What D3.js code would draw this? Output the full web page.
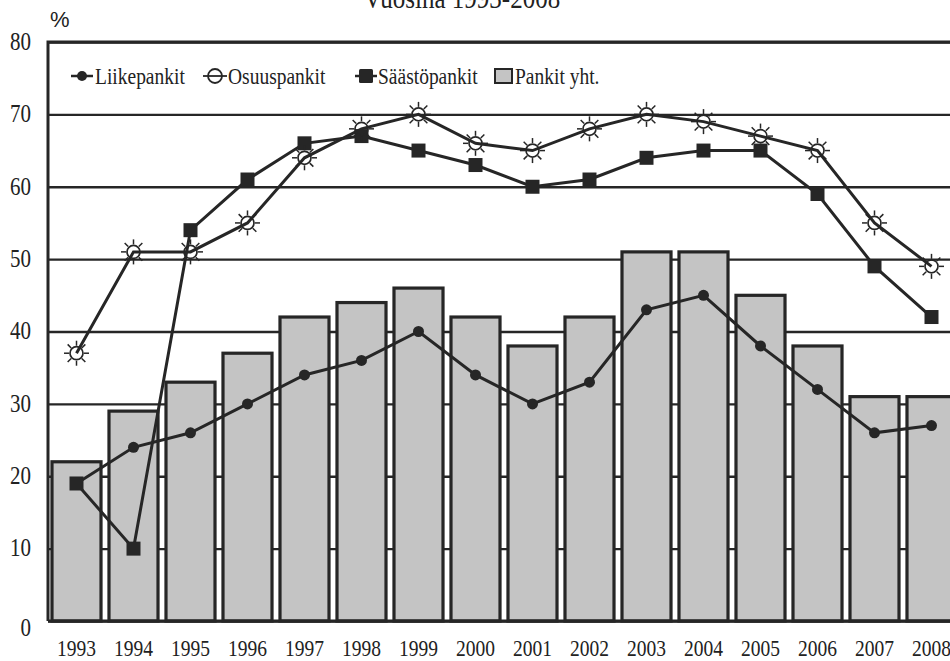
<!DOCTYPE html>
<html>
<head>
<meta charset="utf-8">
<script src="https://cdn.jsdelivr.net/npm/d3@7"></script>
<style>
  body { margin: 0; background: #fff; }
  svg { display: block; }
  text { font-family: "Liberation Serif", "Times New Roman", serif; fill: #222; }
</style>
</head>
<body>
<script>
// data
var years = ["1993", "1994", "1995", "1996", "1997", "1998", "1999", "2000",
             "2001", "2002", "2003", "2004", "2005", "2006", "2007", "2008"]
var pankitYht = [22, 29, 33, 37, 42, 44, 46, 42, 38, 42, 51, 51, 45, 38, 31, 31]
var liikepankit = [19, 24, 26, 30, 34, 36, 40, 34, 30, 33, 43, 45, 38, 32, 26, 27]
var osuuspankit = [37, 51, 51, 55, 64, 68, 70, 66, 65, 68, 70, 69, 67, 65, 55, 49]
var saastopankit = [19, 10, 54, 61, 66, 67, 65, 63, 60, 61, 64, 65, 65, 59, 49, 42]
var yTicks = [0, 10, 20, 30, 40, 50, 60, 70, 80]
var legendNames = ["Liikepankit", "Osuuspankit", "Säästöpankit", "Pankit yht."]

var width = 950,
    height = 661
var plotLeft = 48, plotRight = 960, plotTop = 42, plotBottom = 621
var ink = "#262626"
var barFill = "#c4c4c4"
// the scan is a little taller than wide, so text gets stretched a bit
var stretch = "scale(1,1.15)"

var svg = d3.select("body").append("svg")
    .attr("width", width)
    .attr("height", height)

var x = d3.scaleBand().domain(years).range([plotLeft, plotRight]).paddingInner(0.14).paddingOuter(0.07)
var y = d3.scaleLinear().domain([0, 80]).range([plotBottom, plotTop])
var cx = function (i) { return x(years[i]) + x.bandwidth() / 2 }

// title, cut at the top edge
svg.append("text")
    .attr("transform", "translate(462,8) " + stretch)
    .attr("text-anchor", "middle")
    .style("font-size", "25px")
    .text("Vuosina 1993-2008")

svg.append("text")
    .attr("transform", "translate(50,27)")
    .style("font-family", "'Liberation Sans', Arial, sans-serif")
    .style("font-size", "22px")
    .text("%")

// gridlines behind the bars
var grid = svg.append("g")
    .attr("transform", "translate(" + plotLeft + ",0)")
    .call(d3.axisLeft(y).tickValues(yTicks).tickSize(-(plotRight - plotLeft)).tickFormat(""))
grid.select(".domain").remove()
grid.selectAll("line").attr("stroke", ink).attr("stroke-width", 2.3)

// y labels
var yAxis = svg.append("g")
    .attr("transform", "translate(" + plotLeft + ",0)")
    .call(d3.axisLeft(y).tickValues(yTicks).tickSize(0).tickPadding(17))
yAxis.select(".domain").remove()
yAxis.selectAll("text")
    .style("font-family", "'Liberation Serif', serif")
    .style("font-size", "21px")
    .attr("fill", ink)
    .attr("transform", stretch)
    .attr("dy", function (d) { return d == 0 ? "0.62em" : "0.3em" })

// bars
svg.append("g").selectAll("rect")
    .data(pankitYht)
    .enter().append("rect")
    .attr("x", function (d, i) { return x(years[i]) })
    .attr("y", function (d) { return y(d) })
    .attr("width", x.bandwidth())
    .attr("height", function (d) { return y(0) - y(d) })
    .attr("fill", barFill)
    .attr("stroke", ink)
    .attr("stroke-width", 3.2)

// frame
svg.append("path")
    .attr("d", "M" + plotLeft + "," + plotBottom + "V" + plotTop + "H" + plotRight)
    .attr("fill", "none").attr("stroke", ink).attr("stroke-width", 3)
svg.append("line")
    .attr("x1", plotLeft).attr("x2", plotRight).attr("y1", plotBottom).attr("y2", plotBottom)
    .attr("stroke", ink).attr("stroke-width", 3)

// x labels
var xAxis = svg.append("g")
    .attr("transform", "translate(0," + plotBottom + ")")
    .call(d3.axisBottom(x).tickSize(0).tickPadding(17))
xAxis.select(".domain").remove()
xAxis.selectAll("text")
    .style("font-family", "'Liberation Serif', serif")
    .style("font-size", "19.5px")
    .attr("fill", ink)
    .attr("transform", stretch)

var line = d3.line()
    .x(function (d, i) { return cx(i) })
    .y(function (d) { return y(d) })

function drawLine(values) {
    svg.append("path")
        .datum(values)
        .attr("d", line)
        .attr("fill", "none")
        .attr("stroke", ink)
        .attr("stroke-width", 3)
}

// open circle with eight short rays
function sun(g, r) {
    for (var k = 0; k < 8; k++) {
        var a = k * Math.PI / 4
        g.append("line")
            .attr("x1", Math.cos(a) * (r + 1)).attr("y1", Math.sin(a) * (r + 1))
            .attr("x2", Math.cos(a) * (r + 6)).attr("y2", Math.sin(a) * (r + 6))
            .attr("stroke", ink).attr("stroke-width", 1.5)
    }
    g.append("circle").attr("r", r).attr("fill", "none").attr("stroke", ink).attr("stroke-width", 1.7)
}

drawLine(liikepankit)
drawLine(saastopankit)
drawLine(osuuspankit)

svg.append("g").selectAll("circle")
    .data(liikepankit)
    .enter().append("circle")
    .attr("cx", function (d, i) { return cx(i) })
    .attr("cy", function (d) { return y(d) })
    .attr("r", 5.5)
    .attr("fill", ink)

svg.append("g").selectAll("rect")
    .data(saastopankit)
    .enter().append("rect")
    .attr("x", function (d, i) { return cx(i) - 7 })
    .attr("y", function (d) { return y(d) - 7 })
    .attr("width", 14).attr("height", 14)
    .attr("fill", ink)

svg.append("g").selectAll("g")
    .data(osuuspankit)
    .enter().append("g")
    .attr("transform", function (d, i) { return "translate(" + cx(i) + "," + y(d) + ")" })
    .each(function () { sun(d3.select(this), 6.5) })

// legend
var lg = svg.append("g").attr("transform", "translate(0,76)")
var legendX = [95, 228, 378, 515]
lg.append("line").attr("x1", 71).attr("x2", 93).attr("stroke", ink).attr("stroke-width", 2.5)
lg.append("circle").attr("cx", 82).attr("r", 5).attr("fill", ink)
lg.append("line").attr("x1", 203).attr("x2", 227).attr("stroke", ink).attr("stroke-width", 1.8)
lg.append("circle").attr("cx", 215).attr("r", 7).attr("fill", "none").attr("stroke", ink).attr("stroke-width", 1.8)
lg.append("line").attr("x1", 355).attr("x2", 377).attr("stroke", ink).attr("stroke-width", 2.5)
lg.append("rect").attr("x", 359).attr("y", -7).attr("width", 14).attr("height", 14).attr("rx", 1.5).attr("fill", ink)
lg.append("rect").attr("x", 495).attr("y", -7).attr("width", 17).attr("height", 14)
    .attr("fill", barFill).attr("stroke", ink).attr("stroke-width", 2)
lg.selectAll("text")
    .data(legendNames)
    .enter().append("text")
    .attr("transform", function (d, i) { return "translate(" + legendX[i] + ",0) " + stretch })
    .attr("dy", "0.35em")
    .style("font-size", "19.5px")
    .text(function (d) { return d })
</script>
</body>
</html>
